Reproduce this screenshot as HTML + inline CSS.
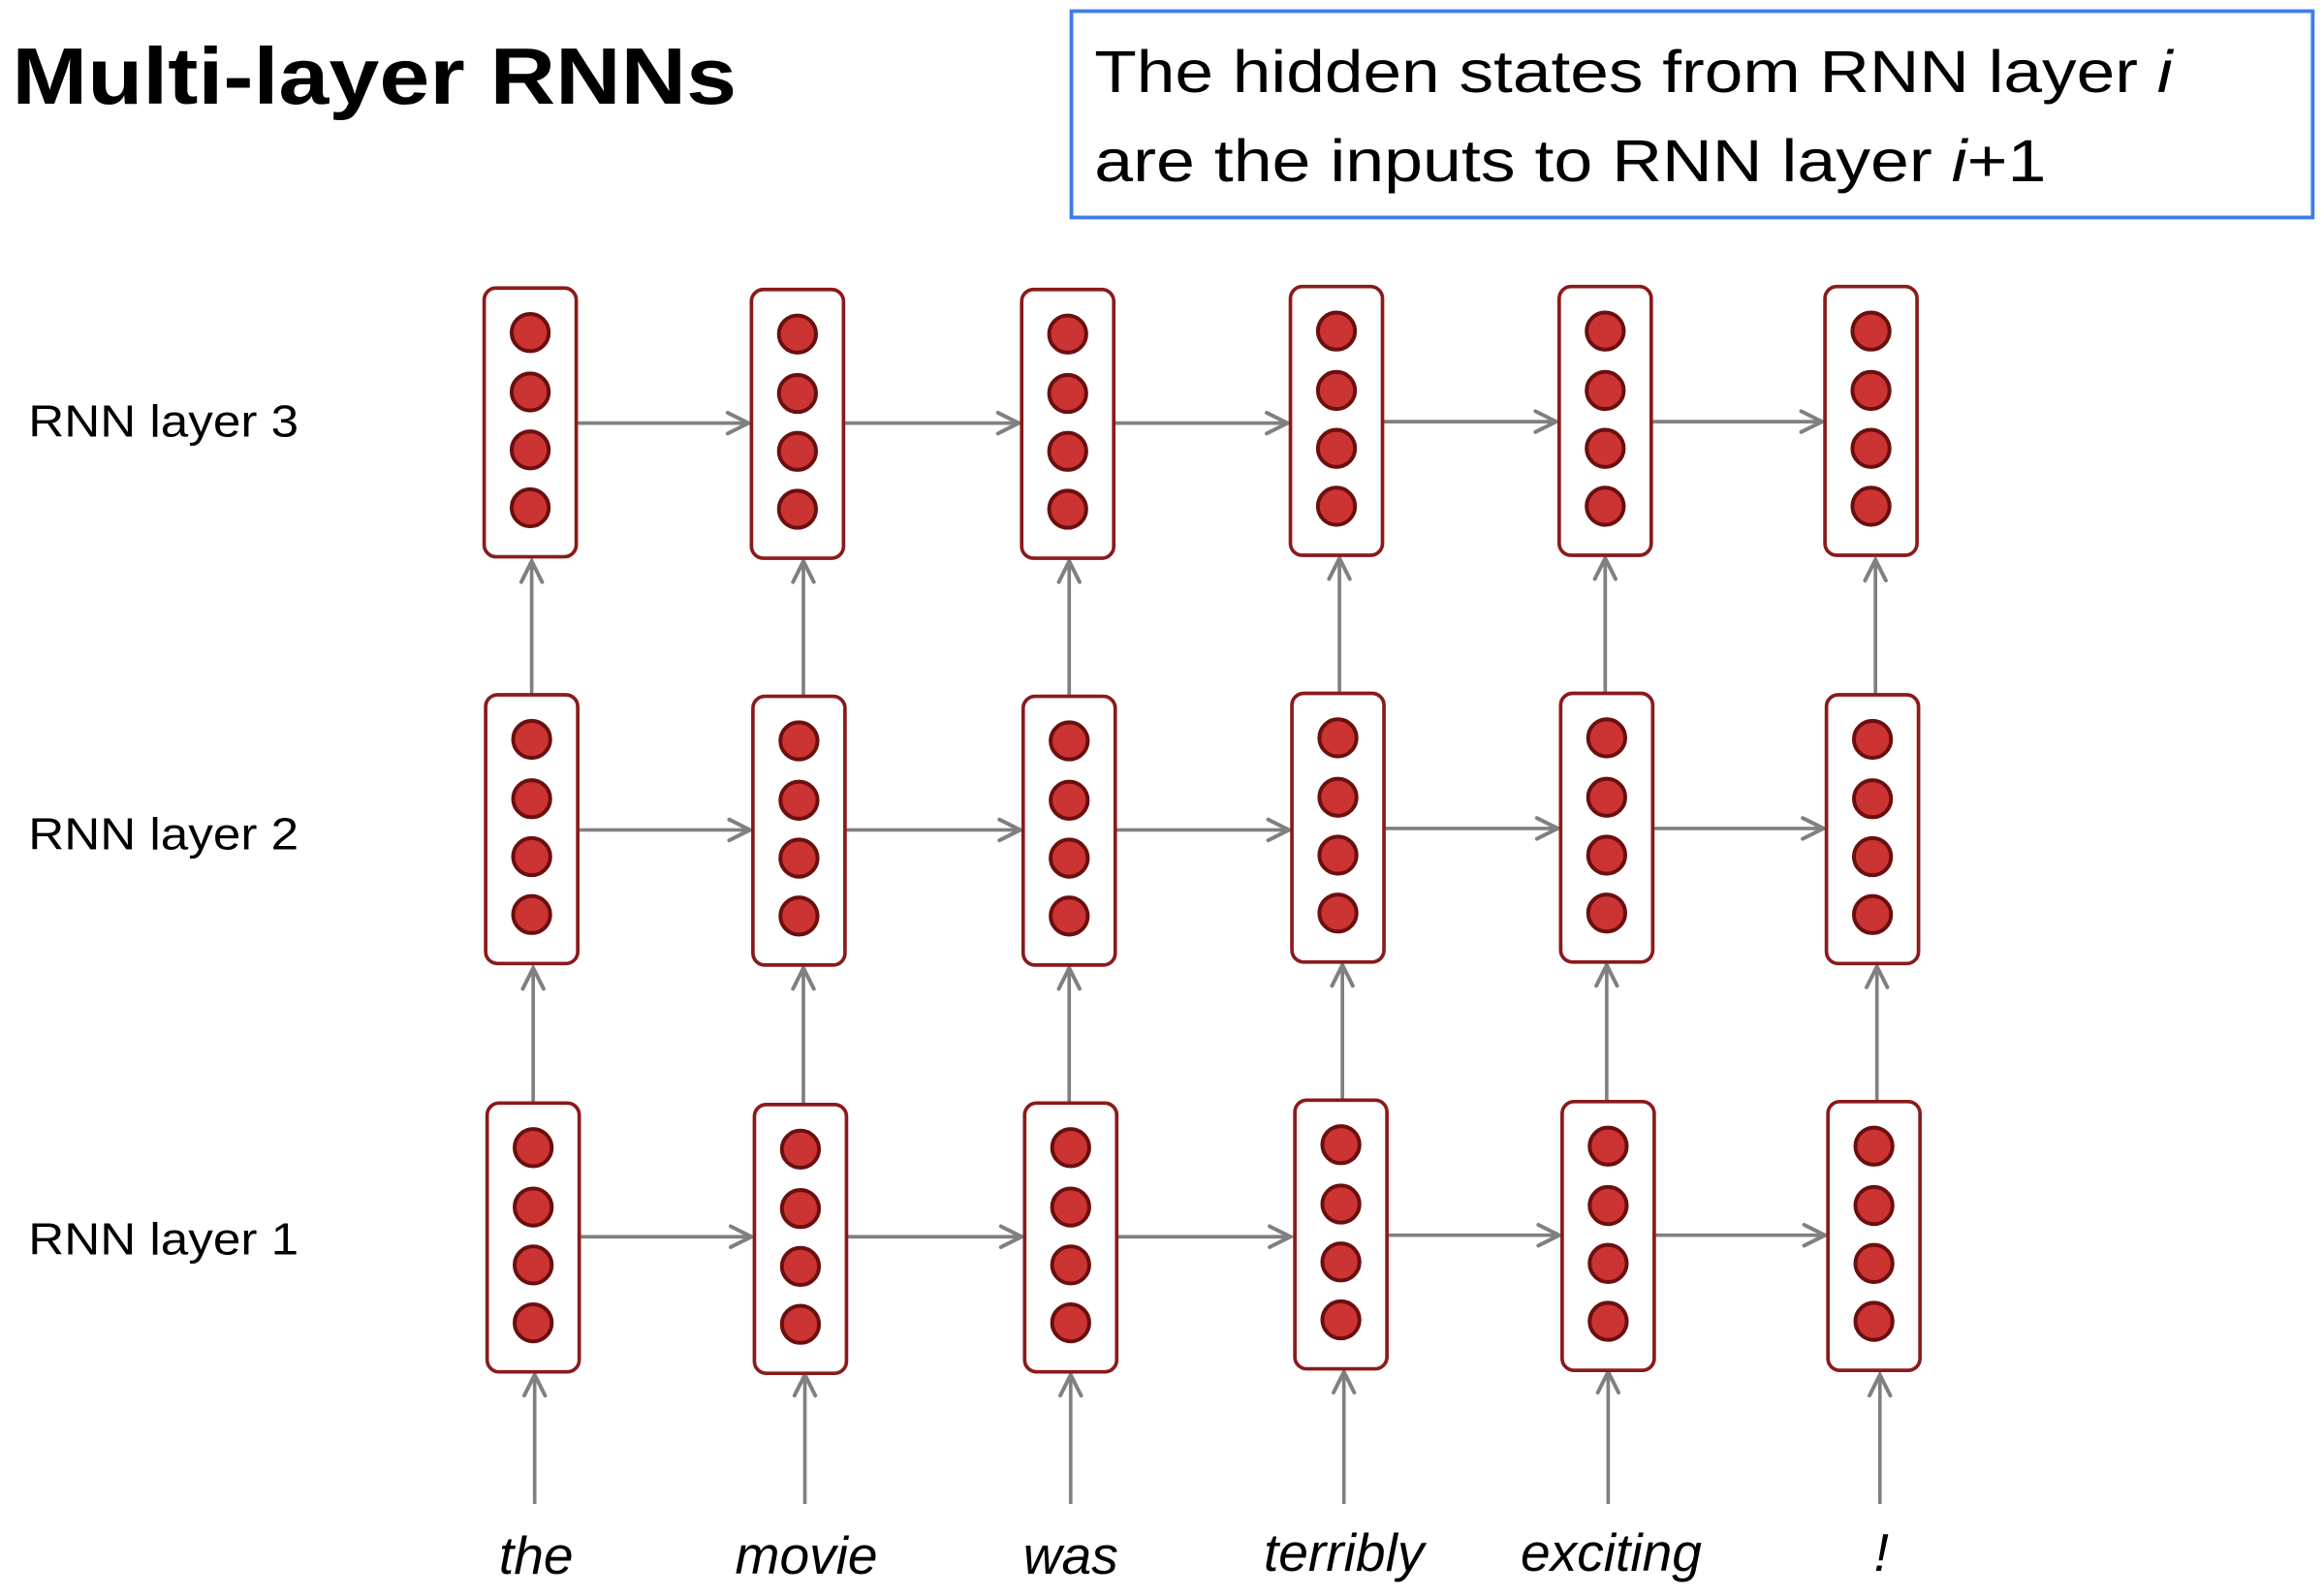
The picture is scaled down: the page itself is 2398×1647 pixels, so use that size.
<!DOCTYPE html>
<html><head><meta charset="utf-8"><style>html,body{margin:0;padding:0;background:#fff}svg{display:block}</style></head>
<body>
<svg width="2398" height="1647" viewBox="0 0 1565 1075" xmlns="http://www.w3.org/2000/svg" font-family="'Liberation Sans', sans-serif">
<defs>
<marker id="a" markerWidth="20" markerHeight="20" refX="16" refY="10" orient="auto" markerUnits="userSpaceOnUse">
<path d="M2,3 L16,10 L2,17" fill="none" stroke="#808080" stroke-width="2.6" stroke-linecap="round"/>
</marker>
<g id="c">
<rect x="-31" y="0" width="62" height="181" rx="8" fill="#fff" stroke="#8b1a1a" stroke-width="2.4"/>
<circle cx="0" cy="30" r="12.5" fill="#cc3333" stroke="#6b0f0f" stroke-width="2.6"/>
<circle cx="0" cy="70" r="12.5" fill="#cc3333" stroke="#6b0f0f" stroke-width="2.6"/>
<circle cx="0" cy="109" r="12.5" fill="#cc3333" stroke="#6b0f0f" stroke-width="2.6"/>
<circle cx="0" cy="148" r="12.5" fill="#cc3333" stroke="#6b0f0f" stroke-width="2.6"/>
</g>
</defs>
<text x="8" y="70" font-size="54" font-weight="bold" fill="#000" textLength="488" lengthAdjust="spacingAndGlyphs">Multi-layer RNNs</text>
<rect x="721.5" y="7.5" width="836" height="139" fill="#fff" stroke="#3c7ee8" stroke-width="2.5"/>
<text x="737" y="62" font-size="40" fill="#000" textLength="726" lengthAdjust="spacingAndGlyphs">The hidden states from RNN layer <tspan font-style="italic">i</tspan></text>
<text x="737" y="122" font-size="40" fill="#000" textLength="641" lengthAdjust="spacingAndGlyphs">are the inputs to RNN layer <tspan font-style="italic">i</tspan>+1</text>
<g font-size="30" fill="#000">
<text x="19" y="294" textLength="182" lengthAdjust="spacingAndGlyphs">RNN layer 3</text>
<text x="19" y="572" textLength="182" lengthAdjust="spacingAndGlyphs">RNN layer 2</text>
<text x="19" y="845" textLength="182" lengthAdjust="spacingAndGlyphs">RNN layer 1</text>
</g>
<g stroke="#808080" stroke-width="2.4" fill="none" marker-end="url(#a)">
<line x1="389" y1="285" x2="504" y2="285"/>
<line x1="569" y1="285" x2="686" y2="285"/>
<line x1="751" y1="285" x2="867" y2="285"/>
<line x1="932" y1="284" x2="1048" y2="284"/>
<line x1="1113" y1="284" x2="1227" y2="284"/>
<line x1="389" y1="559" x2="505" y2="559"/>
<line x1="569" y1="559" x2="687" y2="559"/>
<line x1="751" y1="559" x2="868" y2="559"/>
<line x1="933" y1="558" x2="1049" y2="558"/>
<line x1="1114" y1="558" x2="1228" y2="558"/>
<line x1="390" y1="833" x2="506" y2="833"/>
<line x1="570" y1="833" x2="688" y2="833"/>
<line x1="752" y1="833" x2="869" y2="833"/>
<line x1="934" y1="832" x2="1050" y2="832"/>
<line x1="1115" y1="832" x2="1229" y2="832"/>
<line x1="358" y1="468" x2="358" y2="378"/>
<line x1="541" y1="468" x2="541" y2="378"/>
<line x1="720" y1="468" x2="720" y2="378"/>
<line x1="902" y1="466" x2="902" y2="376"/>
<line x1="1081" y1="466" x2="1081" y2="376"/>
<line x1="1263" y1="467" x2="1263" y2="377"/>
<line x1="359" y1="743" x2="359" y2="652"/>
<line x1="541" y1="743" x2="541" y2="652"/>
<line x1="720" y1="743" x2="720" y2="652"/>
<line x1="904" y1="741" x2="904" y2="650"/>
<line x1="1082" y1="741" x2="1082" y2="650"/>
<line x1="1264" y1="742" x2="1264" y2="651"/>
<line x1="360" y1="1013" x2="360" y2="926"/>
<line x1="542" y1="1013" x2="542" y2="926"/>
<line x1="721" y1="1013" x2="721" y2="926"/>
<line x1="905" y1="1013" x2="905" y2="924"/>
<line x1="1083" y1="1013" x2="1083" y2="924"/>
<line x1="1266" y1="1013" x2="1266" y2="926"/>
</g>
<use href="#c" x="357" y="194"/>
<use href="#c" x="537" y="195"/>
<use href="#c" x="719" y="195"/>
<use href="#c" x="900" y="193"/>
<use href="#c" x="1081" y="193"/>
<use href="#c" x="1260" y="193"/>
<use href="#c" x="358" y="468"/>
<use href="#c" x="538" y="469"/>
<use href="#c" x="720" y="469"/>
<use href="#c" x="901" y="467"/>
<use href="#c" x="1082" y="467"/>
<use href="#c" x="1261" y="468"/>
<use href="#c" x="359" y="743"/>
<use href="#c" x="539" y="744"/>
<use href="#c" x="721" y="743"/>
<use href="#c" x="903" y="741"/>
<use href="#c" x="1083" y="742"/>
<use href="#c" x="1262" y="742"/>
<g font-size="36" font-style="italic" fill="#000" text-anchor="middle">
<text x="361" y="1060">the</text>
<text x="543" y="1060">movie</text>
<text x="721" y="1060">was</text>
<text x="905" y="1058">terribly</text>
<text x="1085" y="1058">exciting</text>
<text x="1267" y="1058">!</text>
</g>
</svg>
</body></html>
